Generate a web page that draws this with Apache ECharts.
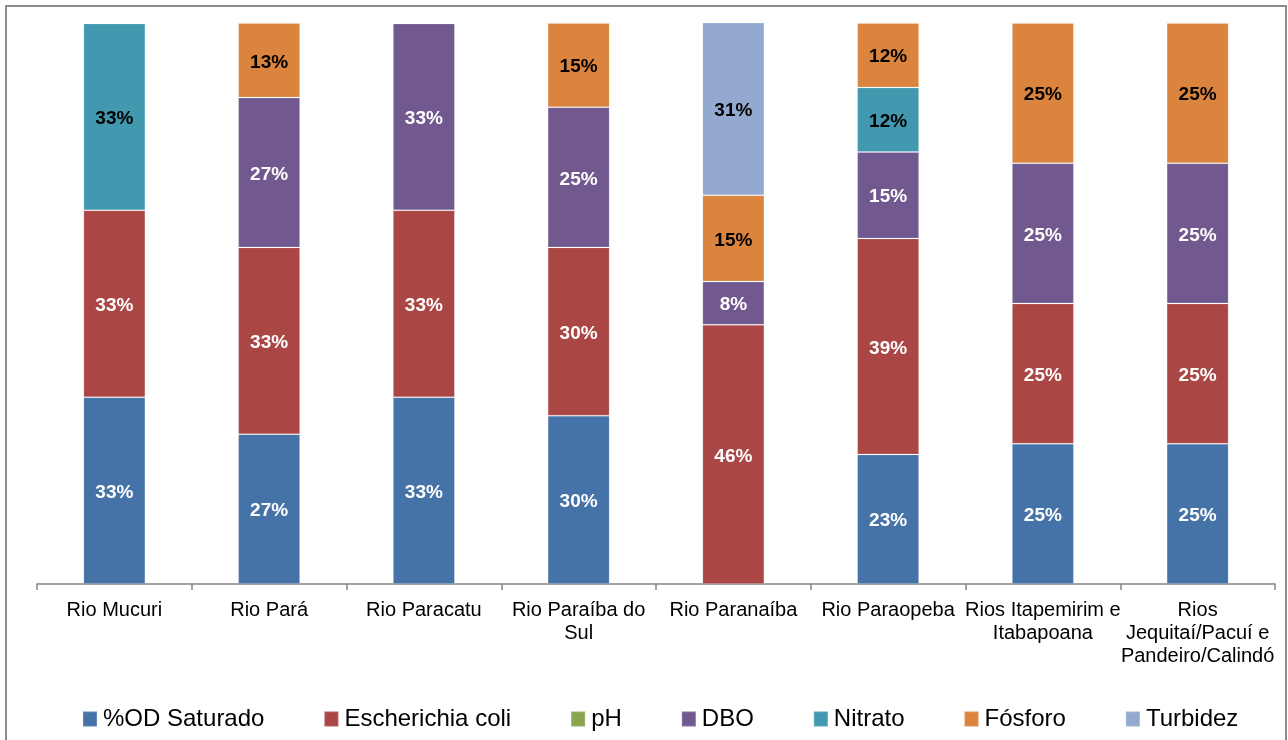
<!DOCTYPE html>
<html>
<head>
<meta charset="utf-8">
<script src="https://cdn.jsdelivr.net/npm/echarts@6/dist/echarts.min.js"></script>
<style>
  html, body { margin: 0; padding: 0; background: #fff; }
  #chart { width: 1288px; height: 740px; }
</style>
</head>
<body>
<div id="chart"></div>
<script>
// River basins (categories)
const categories = [
  'Rio Mucuri',
  'Rio Pará',
  'Rio Paracatu',
  'Rio Paraíba do\nSul',
  'Rio Paranaíba',
  'Rio Paraopeba',
  'Rios Itapemirim e\nItabapoana',
  'Rios\nJequitaí/Pacuí e\nPandeiro/Calindó'
];

// Share (%) of each parameter per basin; null = parameter absent
const odSaturado   = [33.3, 26.7, 33.3, 30.0, null, 23.1, 25.0, 25.0];
const eColi        = [33.3, 33.3, 33.3, 30.0, 46.2, 38.5, 25.0, 25.0];
const ph           = [null, null, null, null, null, null, null, null];
const dbo          = [null, 26.7, 33.3, 25.0, 7.7, 15.4, 25.0, 25.0];
const nitrato      = [33.3, null, null, null, null, 11.5, null, null];
const fosforo      = [null, 13.3, null, 15.0, 15.4, 11.5, 25.0, 25.0];
const turbidez     = [null, null, null, null, 30.8, null, null, null];

const FONT = "Arial, 'Liberation Sans', sans-serif";

function makeSeries(name, data, color, labelColor) {
  return {
    name: name,
    type: 'bar',
    stack: 'total',
    barWidth: 62,
    data: data,
    itemStyle: { color: color, borderColor: 'rgba(255,255,255,0.15)', borderWidth: 1 },
    label: {
      show: true,
      position: 'inside',
      color: labelColor,
      fontFamily: FONT,
      fontWeight: 'bold',
      fontSize: 19,
      offset: [0, 2],
      formatter: p => (p.value == null ? '' : Math.round(p.value) + '%')
    },
    emphasis: { disabled: true }
  };
}

const chart = echarts.init(document.getElementById('chart'), null, { renderer: 'canvas' });
chart.setOption({
  animation: false,
  backgroundColor: '#fff',
  graphic: [{
    type: 'rect',
    shape: { x: 6, y: 6, width: 1280, height: 740 },
    style: { fill: 'none', stroke: '#8c8c8c', lineWidth: 2 },
    silent: true
  }],
  grid: { left: 37, right: 13, top: 23, bottom: 156, containLabel: false },
  legend: {
    bottom: 4,
    left: 77,
    itemWidth: 14,
    itemHeight: 15,
    itemGap: 59,
    icon: 'rect',
    textStyle: { fontFamily: FONT, fontSize: 24, color: '#000', padding: [0, 0, 0, 1] },
    data: ['%OD Saturado', 'Escherichia coli', 'pH', 'DBO', 'Nitrato', 'Fósforo', 'Turbidez']
  },
  xAxis: {
    type: 'category',
    data: categories,
    axisLine: { show: true, lineStyle: { color: '#868686', width: 1.5 } },
    axisTick: { show: true, interval: 0, alignWithLabel: false, length: 6, lineStyle: { color: '#868686', width: 1.5 } },
    axisLabel: {
      interval: 0,
      margin: 15,
      fontFamily: FONT,
      fontSize: 20,
      color: '#000',
      lineHeight: 23
    }
  },
  yAxis: {
    type: 'value',
    min: 0,
    max: 100,
    show: false,
    splitLine: { show: false }
  },
  series: [
    makeSeries('%OD Saturado', odSaturado, '#4572A7', '#fff'),
    makeSeries('Escherichia coli', eColi, '#AA4643', '#fff'),
    makeSeries('pH', ph, '#89A54E', '#fff'),
    makeSeries('DBO', dbo, '#71588F', '#fff'),
    makeSeries('Nitrato', nitrato, '#4198AF', '#000'),
    makeSeries('Fósforo', fosforo, '#DB843D', '#000'),
    makeSeries('Turbidez', turbidez, '#93A9CF', '#000')
  ]
});
</script>
</body>
</html>
